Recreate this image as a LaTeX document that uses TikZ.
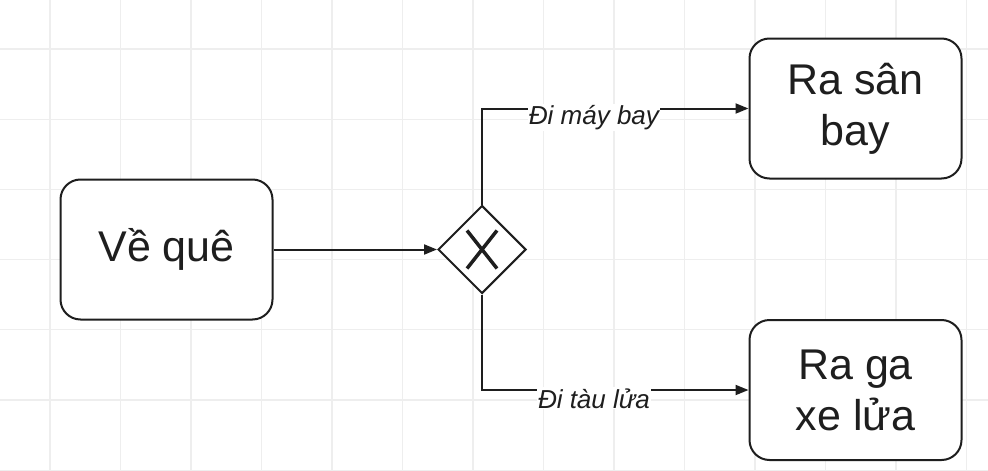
\documentclass[tikz,border=0pt]{standalone}
\usepackage{fontspec}
\setmainfont{Liberation Sans}
\usetikzlibrary{shapes.geometric,arrows.meta}
\definecolor{gridc}{HTML}{EEEEEE}
\definecolor{linec}{HTML}{1E1E1E}
\tikzset{
  box/.style={draw=linec, line width=2pt, rounded corners=20pt, fill=white,
    minimum width=212pt, minimum height=140pt, align=center, text=linec,
    font=\fontsize{43}{51}\selectfont},
  gate/.style={draw=linec, line width=2pt, diamond, fill=white, inner sep=0pt,
    minimum width=88pt, minimum height=88pt},
  flow/.style={draw=linec, line width=2pt, -{Triangle[length=13pt,width=10pt]}},
  lbl/.style={fill=white, inner sep=1pt, text=linec, font=\fontsize{26}{30}\selectfont\itshape},
}
\begin{document}
\begin{tikzpicture}[x=1pt,y=-1pt]
\useasboundingbox (0,0) rectangle (988,471);
\fill[white] (0,0) rectangle (988,471);
\foreach \gx in {50,120.5,...,988} \draw[gridc, line width=1.2pt] (\gx,0) -- (\gx,471);
\foreach \gy in {49,119.2,...,471} \draw[gridc, line width=1.2pt] (0,\gy) -- (988,\gy);

\node[box] (vq) at (166.5,249.5) {Về quê};
\node[box] (sb) at (855.5,108.5) {Ra sân\\bay};
\node[box] (ga) at (855.5,390) {Ra ga\\xe lửa};
\node[gate] (gw) at (482,249.5) {};
\draw[linec, line width=3.5pt] ([shift={(-15pt,-19pt)}]gw.center) -- ([shift={(15pt,19pt)}]gw.center);
\draw[linec, line width=3.5pt] ([shift={(-15pt,19pt)}]gw.center) -- ([shift={(15pt,-19pt)}]gw.center);

\draw[flow] (vq.east) -- (gw.west);
\draw[flow] (gw.north) |- (sb.west) node[lbl, pos=0.71, anchor=base, yshift=-16pt] {Đi máy bay};
\draw[flow] (gw.south) |- (ga.west) node[lbl, pos=0.71, anchor=base, yshift=-18pt] {Đi tàu lửa};
\end{tikzpicture}
\end{document}
